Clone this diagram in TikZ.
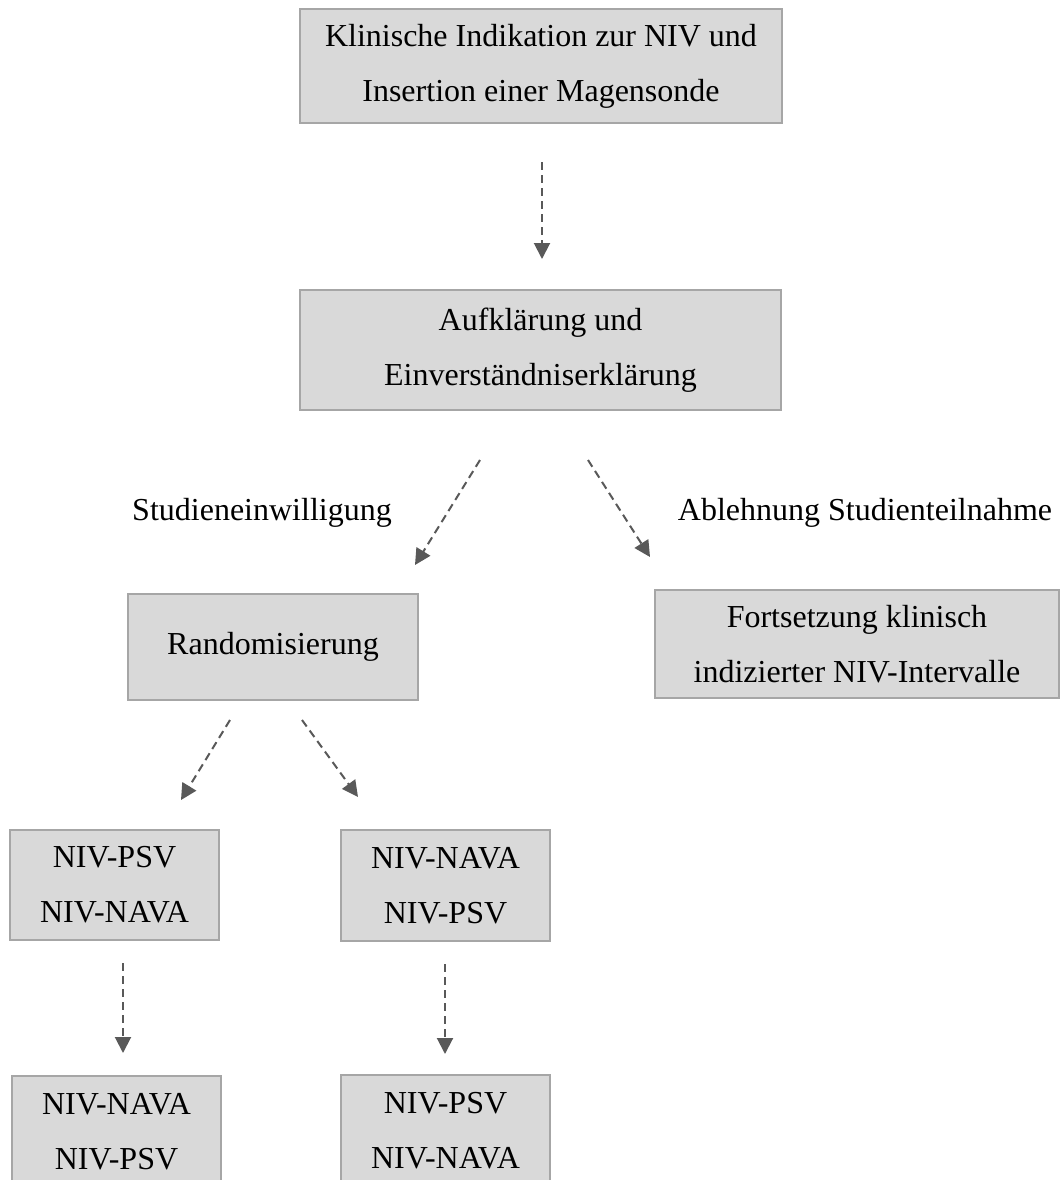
\documentclass[tikz,border=0pt]{standalone}
\usepackage{fontspec}
\setmainfont{Liberation Serif}
\usetikzlibrary{arrows.meta}
\definecolor{boxfill}{HTML}{D9D9D9}
\definecolor{boxline}{HTML}{A6A6A6}
\definecolor{arrowgray}{HTML}{595959}
\begin{document}
\begin{tikzpicture}[x=1pt,y=-1pt,
  box/.style={draw=boxline,fill=boxfill,line width=1.5pt,inner sep=0pt,align=center,font=\fontsize{32}{55}\selectfont},
  lbl/.style={inner sep=0pt,font=\fontsize{32}{55}\selectfont},
  flow/.style={draw=arrowgray,line width=2pt,dash pattern=on 8pt off 5pt,-{Triangle[length=16pt,width=16pt]}}]
\clip (0,0) rectangle (1061,1180);
\fill[white] (0,0) rectangle (1061,1180);
% boxes
\node[box,minimum width=482pt,minimum height=114pt] (ind) at (541,66) {Klinische Indikation zur NIV und\\Insertion einer Magensonde};
\node[box,minimum width=481pt,minimum height=120pt] (auf) at (540.5,350) {Aufklärung und\\Einverständniserklärung};
\node[box,minimum width=290pt,minimum height=106pt] (rand) at (273,647) {Randomisierung};
\node[box,minimum width=404pt,minimum height=108pt] (fort) at (857,644) {Fortsetzung klinisch\\indizierter NIV-Intervalle};
\node[box,minimum width=209pt,minimum height=110pt] (l1) at (114.5,885) {NIV-PSV\\NIV-NAVA};
\node[box,minimum width=209pt,minimum height=111pt] (r1) at (445.5,885.5) {NIV-NAVA\\NIV-PSV};
\node[box,minimum width=209pt,minimum height=112pt] (l2) at (116.5,1132) {NIV-NAVA\\NIV-PSV};
\node[box,minimum width=209pt,minimum height=112pt] (r2) at (445.5,1131) {NIV-PSV\\NIV-NAVA};
% labels
\node[lbl] (ein) at (262,513) {Studieneinwilligung};
\node[lbl] (abl) at (865,513) {Ablehnung Studienteilnahme};
% arrow end points
\coordinate (a1s) at (542,162); \coordinate (a1e) at (542,259);
\coordinate (a2s) at (480,460); \coordinate (a2e) at (415,565);
\coordinate (a3s) at (588,460); \coordinate (a3e) at (650,557);
\coordinate (a4s) at (230,720); \coordinate (a4e) at (181,800);
\coordinate (a5s) at (302,720); \coordinate (a5e) at (358,797);
\coordinate (a6s) at (123,963); \coordinate (a6e) at (123,1053);
\coordinate (a7s) at (445,964); \coordinate (a7e) at (445,1054);
% arrows
\draw[flow] (a1s) -- (a1e);
\draw[flow] (a2s) -- (a2e);
\draw[flow] (a3s) -- (a3e);
\draw[flow] (a4s) -- (a4e);
\draw[flow] (a5s) -- (a5e);
\draw[flow] (a6s) -- (a6e);
\draw[flow] (a7s) -- (a7e);
\end{tikzpicture}
\end{document}
